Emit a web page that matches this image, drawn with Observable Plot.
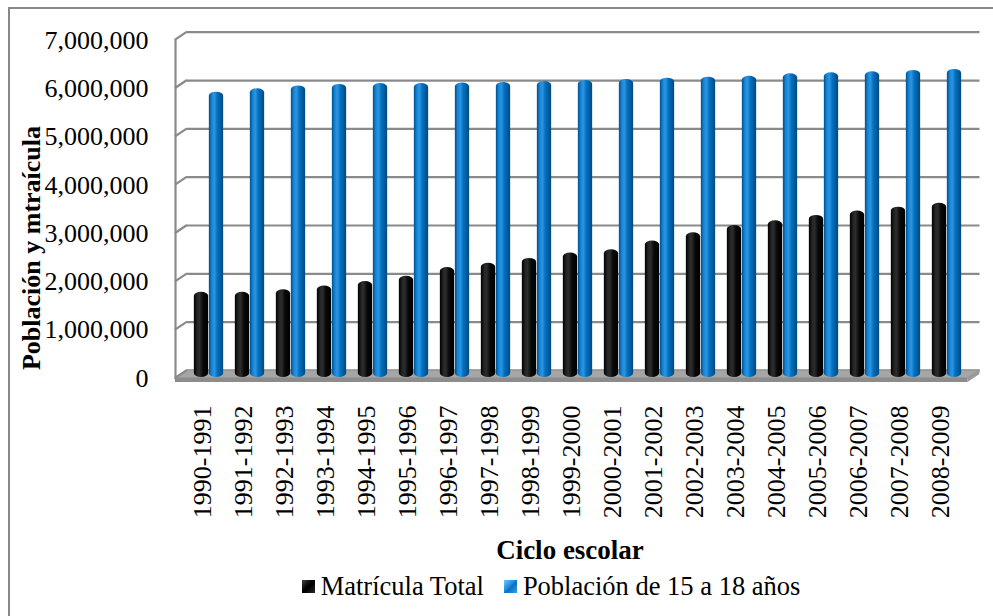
<!DOCTYPE html>
<html>
<head>
<meta charset="utf-8">
<script src="https://cdn.jsdelivr.net/npm/d3@7"></script>
<script src="https://cdn.jsdelivr.net/npm/@observablehq/plot@0.6"></script>
<style>
  body { margin: 0; background: #fff; font-family: "Liberation Serif", "Times New Roman", serif; color: #000; }
  #wrap { position: relative; width: 993px; height: 616px; overflow: hidden; background: #fff; }
  #border { position: absolute; left: 8px; top: 7px; width: 1100px; height: 700px; border: 2px solid #888; box-sizing: border-box; }
  #chart { position: absolute; left: 0; top: 0; }
  #ytitle { position: absolute; left: 32px; top: 248px; transform: translate(-50%, -50%) rotate(-90deg); font-weight: bold; font-size: 26px; white-space: nowrap; }
  #xtitle { position: absolute; left: 0; width: 1140px; top: 538px; text-align: center; font-weight: bold; font-size: 27px; line-height: 25px; }
  #legend { position: absolute; left: 0; width: 1102px; top: 574px; display: flex; justify-content: center; align-items: center; font-size: 26.5px; line-height: 25px; white-space: nowrap; }
  .sw { display: inline-block; width: 13px; height: 13px; margin-right: 6px; }
  .item { display: flex; align-items: center; }
  .item + .item { margin-left: 20px; }
</style>
</head>
<body>
<div id="wrap">
  <div id="border"></div>
  <div id="chart"></div>
  <div id="ytitle">Población y mtraícula</div>
  <div id="xtitle">Ciclo escolar</div>
  <div id="legend"></div>
</div>
<script>
const cycles = ["1990-1991","1991-1992","1992-1993","1993-1994","1994-1995","1995-1996","1996-1997","1997-1998","1998-1999","1999-2000","2000-2001","2001-2002","2002-2003","2003-2004","2004-2005","2005-2006","2006-2007","2007-2008","2008-2009"];
const matricula = [1640000,1640000,1690000,1770000,1860000,1970000,2150000,2240000,2340000,2450000,2520000,2700000,2870000,3020000,3120000,3230000,3320000,3400000,3480000];
const poblacion = [5780000,5850000,5910000,5940000,5960000,5960000,5970000,5980000,6000000,6020000,6040000,6070000,6090000,6110000,6160000,6180000,6200000,6230000,6250000];
const seriesNames = ["Matrícula Total", "Población de 15 a 18 años"];
const yTicks = [0,1000000,2000000,3000000,4000000,5000000,6000000,7000000];

const rows = cycles.flatMap((c, i) => [
  {cycle: c, series: seriesNames[0], value: matricula[i]},
  {cycle: c, series: seriesNames[1], value: poblacion[i]}
]);

const W = 993, H = 530, mL = 181, mR = 19.5, mT = 35.7, mB = H - 374;
const bw = (W - mL - mR) / cycles.length;
const cw = 15; // cylinder width
const depth = 6;

const plot = Plot.plot({
  width: W, height: H,
  marginLeft: mL, marginRight: mR, marginTop: mT, marginBottom: mB,
  style: {fontFamily: "'Liberation Serif','Times New Roman',serif", background: "transparent", color: "#000", overflow: "visible"},
  x: {type: "band", domain: cycles, padding: 0},
  y: {domain: [0, 7000000]},
  marks: [
    Plot.ruleY(yTicks, {dx: depth, dy: -4, stroke: "#8a8a8a", strokeWidth: 2.2}),
    Plot.frame({anchor: "left", dx: -depth, dy: 4, stroke: "#8a8a8a", strokeWidth: 2.2}),
    Plot.barY(rows.filter(d => d.series === seriesNames[0]), {
      x: "cycle", y: "value", fill: "url(#gBlack)",
      insetLeft: bw / 2 - cw, insetRight: bw / 2, insetTop: -3, insetBottom: -3, rx: cw / 2, ry: 4
    }),
    Plot.barY(rows.filter(d => d.series === seriesNames[1]), {
      x: "cycle", y: "value", fill: "url(#gBlue)",
      insetLeft: bw / 2, insetRight: bw / 2 - cw, insetTop: -3, insetBottom: -3, rx: cw / 2, ry: 4
    }),
    Plot.axisY(yTicks, {tickSize: 0, tickPadding: 33, dy: 4, fontSize: 26, tickFormat: d3.format(","), label: null}),
    Plot.axisX({tickSize: 0, tickPadding: 31, tickRotate: -90, dx: -depth, fontSize: 26, label: null})
  ]
});

document.getElementById("chart").appendChild(plot);

// gradients for cylinder shading
const svg = d3.select(plot);
const defs = svg.insert("defs", ":first-child");
function grad(id, stops) {
  const g = defs.append("linearGradient").attr("id", id).attr("x1", "0%").attr("x2", "100%").attr("y1", "0%").attr("y2", "0%");
  stops.forEach(([o, c]) => g.append("stop").attr("offset", o).attr("stop-color", c));
}
grad("gBlue", [["0%", "#004d8a"], ["20%", "#1485d6"], ["38%", "#2e95e0"], ["60%", "#0070c0"], ["100%", "#00497f"]]);
grad("gBlack", [["0%", "#000"], ["25%", "#262626"], ["40%", "#2c2c2c"], ["65%", "#080808"], ["100%", "#000"]]);

// 3D walls and floor via the plot's scales
const xs = plot.scale("x"), ys = plot.scale("y");
const xL = xs.range[0], xR = xs.range[1], y0 = ys.apply(0);
const firstBar = plot.querySelector('g[aria-label="bar"]');
const floor = document.createElementNS("http://www.w3.org/2000/svg", "g");
plot.insertBefore(floor, firstBar);
const fl = d3.select(floor);
fl.append("polygon").attr("points", [[xL + depth, y0 - 4], [xR + depth, y0 - 4], [xR - depth, y0 + 4], [xL - depth, y0 + 4]].join(" ")).attr("fill", "#a6a6a6").attr("stroke", "#8a8a8a").attr("stroke-width", 1);
fl.append("polygon").attr("points", [[xL - depth, y0 + 4], [xR - depth, y0 + 4], [xR - depth, y0 + 8], [xL - depth, y0 + 8]].join(" ")).attr("fill", "#8c8c8c");
fl.append("polygon").attr("points", [[xR + depth, y0 - 4], [xR + depth, y0], [xR - depth, y0 + 8], [xR - depth, y0 + 4]].join(" ")).attr("fill", "#9a9a9a");
yTicks.forEach(t => {
  fl.append("line").attr("x1", xL - depth).attr("y1", ys.apply(t) + 4).attr("x2", xL + depth).attr("y2", ys.apply(t) - 4)
    .attr("stroke", "#8a8a8a").attr("stroke-width", 2.2);
});

// legend
const legend = d3.select("#legend");
const fills = [
  "linear-gradient(135deg,#444 0%,#000 45%,#000 55%,#2a2a2a 100%)",
  "linear-gradient(135deg,#7cc4f4 0%,#1a8ae0 45%,#0a6fc0 55%,#3aa0ea 100%)"
];
seriesNames.forEach((s, i) => {
  const it = legend.append("span").attr("class", "item");
  it.append("span").attr("class", "sw").style("background", fills[i]);
  it.append("span").text(s);
});
</script>
</body>
</html>
